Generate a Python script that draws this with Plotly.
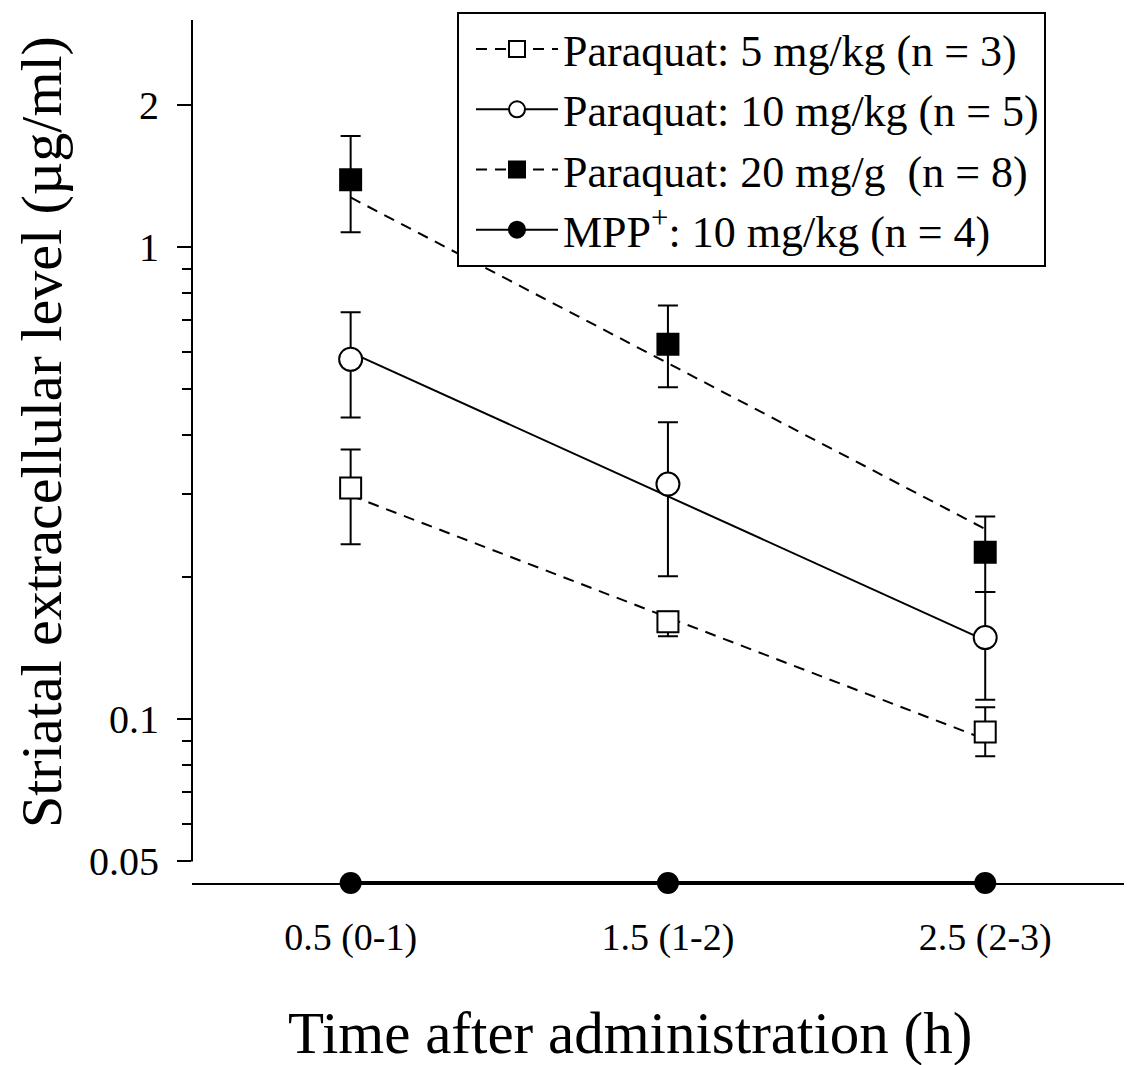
import math
import plotly.graph_objects as go

# ---------------- data ----------------
time = [0.5, 1.5, 2.5]
tick_text = ["0.5 (0-1)", "1.5 (1-2)", "2.5 (2-3)"]

pq5_mean = [0.309, 0.161, 0.094]
pq5_hi = [0.373, 0.169, 0.106]
pq5_lo = [0.235, 0.150, 0.0835]

pq10_mean = [0.579, 0.315, 0.149]
pq10_hi = [0.728, 0.426, 0.186]
pq10_lo = [0.436, 0.201, 0.110]

pq20_mean = [1.39, 0.623, 0.226]
pq20_hi = [1.72, 0.753, 0.269]
pq20_lo = [1.076, 0.505, 0.186]

mpp_mean = [0.045, 0.045, 0.045]  # below detection, drawn on the baseline

fit_x = [0.5, 2.5]
fit5 = [0.298, 0.0907]
fit10 = [0.599, 0.147]
fit20 = [1.275, 0.253]

y_major = [0.05, 0.1, 1, 2]
y_major_text = ["0.05", "0.1", "1", "2"]
y_minor = [0.06, 0.07, 0.08, 0.09, 0.2, 0.3, 0.4, 0.5, 0.6, 0.7, 0.8, 0.9]

names = ["Paraquat: 5 mg/kg (n = 3)", "Paraquat: 10 mg/kg (n = 5)",
         "Paraquat: 20 mg/g  (n = 8)", "MPP<sup>+</sup>: 10 mg/kg (n = 4)"]
x_title = "Time after administration (h)"
y_title = "Striatal extracellular level (µg/ml)"

# ---------------- style ----------------
FONT = "Liberation Serif, Times New Roman, serif"
DASH = "11px,8px"
OFF = 8                      # page body margin of the html page
W, H = 1132 - OFF, 1065 - OFF
ML, MT = 192 - OFF, 20 - OFF
MR = 4
MB = H - (883 - OFF)
y_lo, y_hi = 0.045, 3.03
log_lo, log_hi = math.log10(y_lo), math.log10(y_hi)
pw, ph = W - ML - MR, H - MT - MB


def px_x(sx):   # screen x -> paper x
    return (sx - OFF - ML) / pw


def px_y(sy):   # screen y -> paper y
    return (H - MB - (sy - OFF)) / ph


fig = go.Figure()

# regression lines
for fy, dash in [(fit5, DASH), (fit10, "solid"), (fit20, DASH)]:
    fig.add_trace(go.Scatter(x=fit_x, y=fy, mode="lines", showlegend=False,
                             line=dict(color="black", width=2, dash=dash),
                             hoverinfo="skip"))


def err(mean, hi, lo):
    return dict(type="data", symmetric=False,
                array=[h - m for h, m in zip(hi, mean)],
                arrayminus=[m - l for m, l in zip(mean, lo)],
                color="black", thickness=2, width=10)


series = [
    (pq5_mean, pq5_hi, pq5_lo, "square", "white", 21),
    (pq10_mean, pq10_hi, pq10_lo, "circle", "white", 23),
    (pq20_mean, pq20_hi, pq20_lo, "square", "black", 21),
]
for m, h, l, sym, fill, sz in series:
    fig.add_trace(go.Scatter(x=time, y=m, mode="markers", showlegend=False,
                             error_y=err(m, h, l), cliponaxis=False,
                             marker=dict(symbol=sym, size=sz, color=fill,
                                         line=dict(color="black", width=2))))

# MPP+
fig.add_trace(go.Scatter(x=time, y=mpp_mean, mode="lines+markers", showlegend=False,
                         cliponaxis=False, line=dict(color="black", width=4),
                         marker=dict(symbol="circle", size=22, color="black")))

# legend entries
leg_styles = [("square", "white", DASH), ("circle", "white", "solid"),
              ("square", "black", DASH), ("circle", "black", "solid")]
for name, (sym, fill, dash) in zip(names, leg_styles):
    fig.add_trace(go.Scatter(x=[None], y=[None], mode="lines+markers", name=name,
                             line=dict(color="black", width=2, dash=dash),
                             marker=dict(symbol=sym, size=16, color=fill,
                                         line=dict(color="black", width=2))))

# y-axis line (ends at 0.05)
frac05 = (math.log10(0.05) - log_lo) / (log_hi - log_lo)
fig.add_shape(type="line", xref="paper", yref="paper", x0=0, x1=0, y0=frac05, y1=1,
              line=dict(color="black", width=2))

# axis titles as annotations for exact placement
fig.add_annotation(text=y_title, textangle=-90, showarrow=False,
                   xref="paper", yref="paper", x=px_x(41), y=px_y(432),
                   xanchor="center", yanchor="middle", borderpad=0,
                   font=dict(family=FONT, size=58, color="black"))
fig.add_annotation(text=x_title, showarrow=False,
                   xref="paper", yref="paper", x=px_x(630), y=px_y(1033),
                   xanchor="center", yanchor="middle", borderpad=0,
                   font=dict(family=FONT, size=59, color="black"))

fig.update_layout(
    width=W, height=H,
    margin=dict(l=ML, r=MR, t=MT, b=MB, autoexpand=False),
    paper_bgcolor="white", plot_bgcolor="white",
    font=dict(family=FONT, color="black", size=38),
    showlegend=True,
    legend=dict(x=px_x(457), y=px_y(12), xanchor="left", yanchor="top",
                bgcolor="white", bordercolor="black", borderwidth=2,
                font=dict(family=FONT, size=44, color="black"),
                itemwidth=82, indentation=12, tracegroupgap=0),
    xaxis=dict(range=[0, 2.95], showgrid=False, zeroline=False, automargin=False,
               showline=True, linecolor="black", linewidth=2,
               tickmode="array", tickvals=time, ticktext=tick_text,
               ticks="outside", ticklen=5, tickwidth=2, tickcolor="black",
               ticklabelstandoff=14,
               tickfont=dict(family=FONT, size=38)),
    yaxis=dict(type="log", range=[log_lo, log_hi], showgrid=False, zeroline=False,
               automargin=False, showline=False,
               tickmode="array", tickvals=y_major, ticktext=y_major_text,
               ticks="outside", ticklen=14, tickwidth=2, tickcolor="black",
               ticklabelstandoff=10,
               tickfont=dict(family=FONT, size=40),
               minor=dict(tickvals=y_minor, ticks="outside", ticklen=9,
                          tickwidth=2, tickcolor="black", showgrid=False)),
)

fig.write_html("out.html")
